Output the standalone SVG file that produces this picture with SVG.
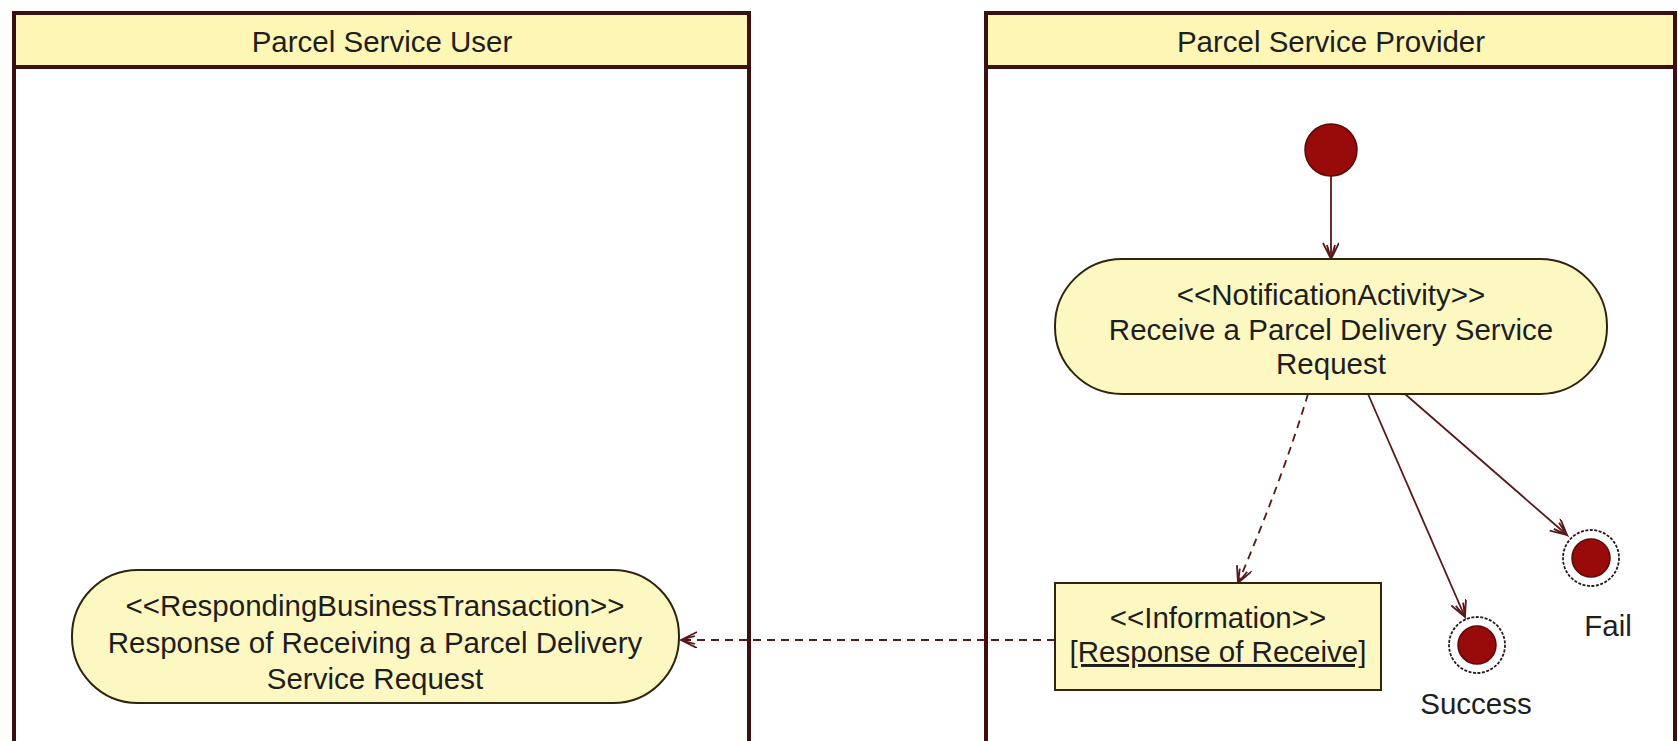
<svg xmlns="http://www.w3.org/2000/svg" width="1678" height="741" viewBox="0 0 1678 741">
<style>
.lane{fill:#ffffff;stroke:#3d1010;stroke-width:4}
.hdr{fill:#fdf6b4;stroke:#3d1010;stroke-width:4}
.node{fill:#fdf8c2;stroke:#2e2410;stroke-width:2}
.t{font-family:"Liberation Sans",Arial,sans-serif;font-size:29.5px;fill:#1e1e1e;text-anchor:middle}
.c{fill:none;stroke:#5a1818;stroke-width:1.8}
.d{stroke-dasharray:8,6}
.dot{fill:#990a0a;stroke:#5a0808;stroke-width:1.5}
.ring{fill:#ffffff;stroke:#2a1a1a;stroke-width:1.8;stroke-dasharray:3,1.5}
</style>
<defs>
<marker id="ah" markerUnits="userSpaceOnUse" markerWidth="22" markerHeight="22" refX="18" refY="8" orient="auto">
<path d="M2,0 L18,8 L2,16 M4,4 L18,8 L4,12" fill="none" stroke="#5a1818" stroke-width="1.8"/>
</marker>
</defs>
<rect width="1678" height="741" fill="#ffffff"/>
<g id="lane-user">
<rect class="lane" x="14" y="13" width="735" height="740"/>
<rect class="hdr" x="14" y="13" width="735" height="54"/>
<text class="t" x="382" y="52">Parcel Service User</text>
</g>
<g id="lane-provider">
<rect class="lane" x="986" y="13" width="689" height="740"/>
<rect class="hdr" x="986" y="13" width="689" height="54"/>
<text class="t" x="1331" y="52">Parcel Service Provider</text>
</g>
<g id="connectors">
<line class="c" x1="1331" y1="176" x2="1331" y2="259" marker-end="url(#ah)"/>
<path class="c d" d="M1308,394 Q1282,480 1238,583" marker-end="url(#ah)"/>
<line class="c" x1="1368" y1="394" x2="1465" y2="617" marker-end="url(#ah)"/>
<line class="c" x1="1405" y1="394" x2="1567" y2="535" marker-end="url(#ah)"/>
<line class="c d" x1="1055" y1="640" x2="681" y2="640" marker-end="url(#ah)"/>
</g>
<g id="start">
<circle class="dot" cx="1331" cy="150" r="26"/>
</g>
<g id="receive-request">
<rect class="node" x="1055" y="259" width="552" height="135" rx="67" ry="67"/>
<text class="t" x="1331" y="305">&lt;&lt;NotificationActivity&gt;&gt;</text>
<text class="t" x="1331" y="340">Receive a Parcel Delivery Service</text>
<text class="t" x="1331" y="374">Request</text>
</g>
<g id="information">
<rect class="node" x="1055" y="583" width="326" height="107"/>
<text class="t" x="1218" y="628">&lt;&lt;Information&gt;&gt;</text>
<text class="t" x="1218" y="662" text-decoration="underline">[Response of Receive]</text>
</g>
<g id="success">
<circle class="ring" cx="1477" cy="645" r="28"/>
<circle class="dot" cx="1477" cy="645" r="19"/>
<text class="t" x="1476" y="714">Success</text>
</g>
<g id="fail">
<circle class="ring" cx="1591" cy="558" r="28"/>
<circle class="dot" cx="1591" cy="558" r="19"/>
<text class="t" x="1608" y="636">Fail</text>
</g>
<g id="response">
<rect class="node" x="72" y="570" width="607" height="133" rx="66" ry="66"/>
<text class="t" x="375" y="616">&lt;&lt;RespondingBusinessTransaction&gt;&gt;</text>
<text class="t" x="375" y="653">Response of Receiving a Parcel Delivery</text>
<text class="t" x="375" y="689">Service Request</text>
</g>
</svg>
